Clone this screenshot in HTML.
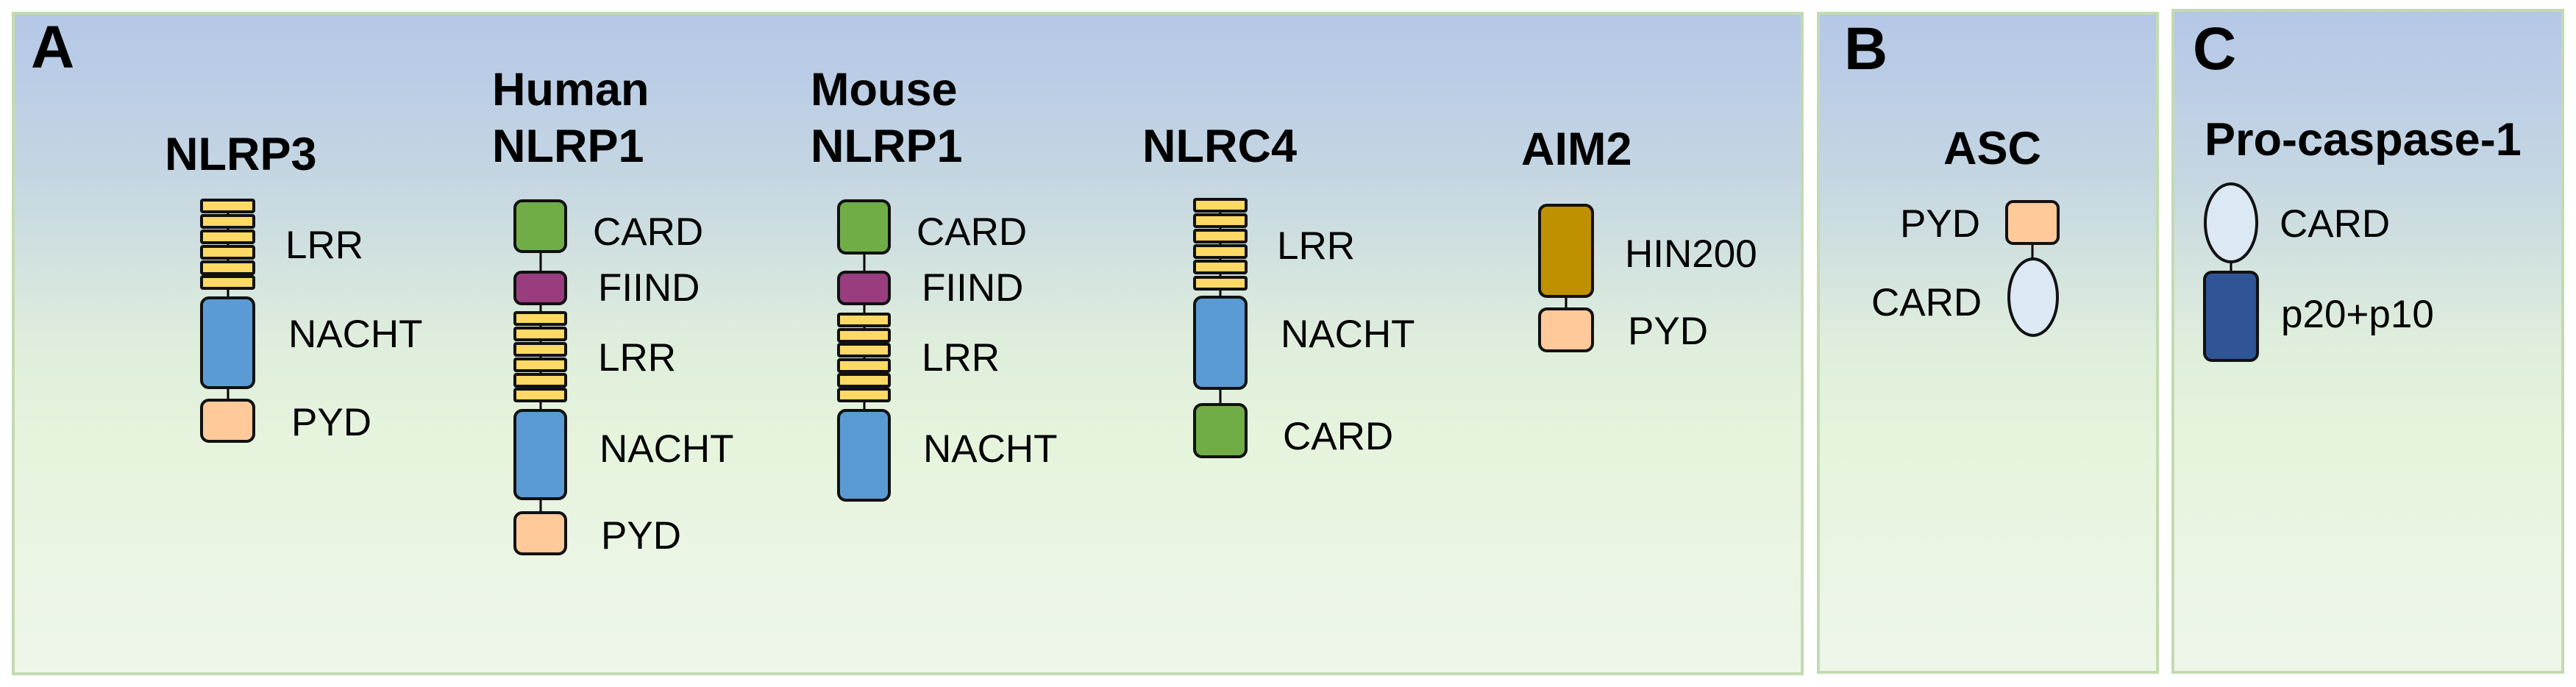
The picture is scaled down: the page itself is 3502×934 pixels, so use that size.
<!DOCTYPE html>
<html><head><meta charset="utf-8"><style>html,body{margin:0;padding:0;background:#fff}svg{display:block}</style></head><body>
<svg width="3502" height="934" viewBox="0 0 3502 934" xmlns="http://www.w3.org/2000/svg" font-family="'Liberation Sans', Arial, sans-serif">
<defs>
<linearGradient id="bg" x1="0" y1="0" x2="0" y2="1">
<stop offset="0" stop-color="#b4c7e7"/>
<stop offset="0.25" stop-color="#c5d6e2"/>
<stop offset="0.5" stop-color="#dfeedc"/>
<stop offset="0.65" stop-color="#e6f4dd"/>
<stop offset="1" stop-color="#eef6ea"/>
</linearGradient>
</defs>
<rect x="18" y="18" width="2432" height="898" fill="url(#bg)" stroke="#c3dbb0" stroke-width="4"/>
<rect x="2472" y="18" width="461" height="896" fill="url(#bg)" stroke="#c3dbb0" stroke-width="4"/>
<rect x="2954" y="14" width="530" height="900" fill="url(#bg)" stroke="#c3dbb0" stroke-width="4"/>

<g font-weight="bold" fill="#000">
<text x="42" y="92" font-size="82">A</text>
<text x="2507" y="94" font-size="82">B</text>
<text x="2981" y="94" font-size="82">C</text>
<text x="224" y="231" font-size="63">NLRP3</text>
<text x="669" y="143" font-size="63">Human</text>
<text x="669" y="220" font-size="63">NLRP1</text>
<text x="1102" y="143" font-size="63">Mouse</text>
<text x="1102" y="220" font-size="63">NLRP1</text>
<text x="1553" y="220" font-size="63">NLRC4</text>
<text x="2068" y="224" font-size="63">AIM2</text>
<text x="2642" y="223" font-size="63">ASC</text>
<text x="2997" y="211" font-size="63">Pro-caspase-1</text>
</g>

<g stroke="#000" stroke-width="3">
<line x1="310" y1="272" x2="310" y2="600"/>
<line x1="735" y1="273" x2="735" y2="753"/>
<line x1="1175" y1="273" x2="1175" y2="680"/>
<line x1="1659" y1="271" x2="1659" y2="621"/>
<line x1="2129" y1="279" x2="2129" y2="477"/>
<line x1="2763" y1="300" x2="2763" y2="400"/>
<line x1="3033" y1="300" x2="3033" y2="420"/>
</g>

<g stroke="#111" stroke-width="4">
<!-- NLRP3 -->
<g fill="#ffd966">
<rect x="274" y="272" width="71" height="16" rx="2"/><rect x="274" y="293" width="71" height="16" rx="2"/><rect x="274" y="314" width="71" height="16" rx="2"/><rect x="274" y="335" width="71" height="16" rx="2"/><rect x="274" y="356" width="71" height="16" rx="2"/><rect x="274" y="376" width="71" height="16" rx="2"/>
</g>
<rect x="274" y="405" width="71" height="122" rx="10" fill="#5b9bd5"/>
<rect x="274" y="544" width="71" height="56" rx="10" fill="#ffc99a"/>
<!-- Human NLRP1 -->
<rect x="700" y="273" width="69" height="69" rx="10" fill="#70ad47"/>
<rect x="700" y="370" width="69" height="43" rx="9" fill="#993d7e"/>
<g fill="#ffd966">
<rect x="700" y="425" width="69" height="16" rx="2"/><rect x="700" y="446" width="69" height="16" rx="2"/><rect x="700" y="467" width="69" height="16" rx="2"/><rect x="700" y="488" width="69" height="16" rx="2"/><rect x="700" y="509" width="69" height="16" rx="2"/><rect x="700" y="529" width="69" height="16" rx="2"/>
</g>
<rect x="700" y="558" width="69" height="120" rx="10" fill="#5b9bd5"/>
<rect x="700" y="697" width="69" height="56" rx="10" fill="#ffc99a"/>
<!-- Mouse NLRP1 -->
<rect x="1140" y="273" width="69" height="71" rx="10" fill="#70ad47"/>
<rect x="1140" y="370" width="69" height="43" rx="9" fill="#993d7e"/>
<g fill="#ffd966">
<rect x="1140" y="427" width="69" height="16" rx="2"/><rect x="1140" y="448" width="69" height="16" rx="2"/><rect x="1140" y="468" width="69" height="16" rx="2"/><rect x="1140" y="489" width="69" height="16" rx="2"/><rect x="1140" y="509" width="69" height="16" rx="2"/><rect x="1140" y="529" width="69" height="16" rx="2"/>
</g>
<rect x="1140" y="558" width="69" height="122" rx="10" fill="#5b9bd5"/>
<!-- NLRC4 -->
<g fill="#ffd966">
<rect x="1624" y="271" width="70" height="16" rx="2"/><rect x="1624" y="292" width="70" height="16" rx="2"/><rect x="1624" y="313" width="70" height="16" rx="2"/><rect x="1624" y="334" width="70" height="16" rx="2"/><rect x="1624" y="355" width="70" height="16" rx="2"/><rect x="1624" y="377" width="70" height="16" rx="2"/>
</g>
<rect x="1624" y="404" width="70" height="124" rx="10" fill="#5b9bd5"/>
<rect x="1624" y="550" width="70" height="71" rx="10" fill="#70ad47"/>
<!-- AIM2 -->
<rect x="2093" y="279" width="72" height="124" rx="10" fill="#bf9000"/>
<rect x="2093" y="420" width="72" height="57" rx="10" fill="#ffc99a"/>
<!-- ASC -->
<rect x="2728" y="274" width="70" height="57" rx="9" fill="#ffc99a"/>
<ellipse cx="2764" cy="404" rx="33" ry="52" fill="#dde8f5"/>
<!-- Pro-caspase-1 -->
<ellipse cx="3033" cy="303" rx="35" ry="53" fill="#dde8f5"/>
<rect x="2997" y="370" width="72" height="120" rx="10" fill="#2f5597"/>
</g>

<g font-size="53" fill="#000">
<text x="388" y="351">LRR</text>
<text x="392" y="472">NACHT</text>
<text x="396" y="592">PYD</text>
<text x="806" y="333">CARD</text>
<text x="813" y="409">FIIND</text>
<text x="813" y="504">LRR</text>
<text x="815" y="628">NACHT</text>
<text x="817" y="746">PYD</text>
<text x="1246" y="333">CARD</text>
<text x="1253" y="409">FIIND</text>
<text x="1253" y="504">LRR</text>
<text x="1255" y="628">NACHT</text>
<text x="1736" y="352">LRR</text>
<text x="1741" y="472">NACHT</text>
<text x="1744" y="611">CARD</text>
<text x="2209" y="363">HIN200</text>
<text x="2213" y="468">PYD</text>
<text x="2583" y="322">PYD</text>
<text x="2544" y="429">CARD</text>
<text x="3099" y="322">CARD</text>
<text x="3101" y="445">p20+p10</text>
</g>
</svg>
</body></html>
